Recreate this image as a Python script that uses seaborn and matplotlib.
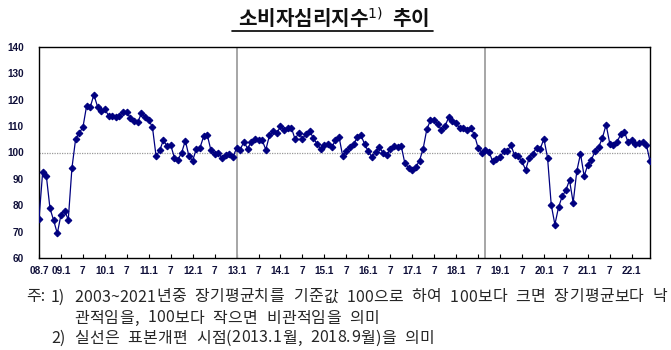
import matplotlib
matplotlib.use("Agg")
import matplotlib.pyplot as plt
import seaborn as sns
import pandas as pd
import numpy as np

# Monthly consumer sentiment index, 2008.7 - 2022.6
values = [
    # 2008.7 - 2008.12
    74.8, 92.6, 91.2, 78.8, 74.3, 69.3,
    # 2009
    76.3, 78.0, 74.5, 94.1, 105.0, 107.5, 109.5, 117.6, 117.2, 121.9, 117.4, 115.7,
    # 2010
    116.4, 114.0, 114.0, 113.6, 113.9, 115.5, 115.3, 113.0, 112.0, 111.5, 114.9, 113.6,
    # 2011
    112.2, 109.7, 98.6, 100.8, 104.7, 102.3, 102.8, 98.1, 97.3, 100.0, 104.5, 98.5,
    # 2012
    96.9, 101.4, 101.8, 106.1, 106.6, 100.8, 99.6, 100.0, 97.8, 99.2, 99.4, 98.2,
    # 2013
    101.7, 101.1, 104.1, 101.5, 104.0, 105.0, 104.6, 104.6, 101.1, 106.5, 108.0, 107.3,
    # 2014
    109.9, 108.7, 109.3, 109.3, 105.0, 107.5, 105.2, 107.1, 108.0, 105.5, 103.2, 101.4,
    # 2015
    103.0, 103.4, 101.9, 104.6, 106.0, 98.7, 100.6, 101.9, 103.1, 105.7, 106.5, 103.2,
    # 2016
    100.4, 98.3, 100.3, 102.0, 100.0, 99.0, 101.3, 102.3, 102.2, 102.5, 95.9, 94.3,
    # 2017
    93.4, 94.5, 96.9, 101.5, 108.8, 112.2, 112.2, 110.8, 108.5, 110.1, 113.4, 111.8,
    # 2018
    111.0, 109.3, 109.3, 108.5, 109.2, 106.8, 101.8, 100.0, 100.9, 100.3, 96.6, 97.5,
    # 2019
    98.2, 100.4, 100.6, 102.7, 98.9, 98.5, 96.7, 93.4, 98.0, 99.6, 101.8, 101.4,
    # 2020
    105.2, 98.0, 80.2, 72.7, 79.2, 83.4, 85.7, 89.5, 81.0, 93.0, 99.5, 91.1,
    # 2021
    95.3, 97.3, 100.5, 102.2, 105.5, 110.6, 103.4, 102.7, 103.9, 107.0, 107.9, 103.9,
    # 2022.1 - 2022.6
    104.8, 103.4, 103.6, 103.9, 103.0, 96.7,
]

tick_labels = ["08.7", "09.1", "7", "10.1", "7", "11.1", "7", "12.1", "7",
               "13.1", "7", "14.1", "7", "15.1", "7", "16.1", "7", "17.1", "7",
               "18.1", "7", "19.1", "7", "20.1", "7", "21.1", "7", "22.1"]
y_ticks = [60, 70, 80, 90, 100, 110, 120, 130, 140]
break_labels = ["13.1", "18.9"]
baseline = 100

title_text = "소비자심리지수"
note_lines = [
    ("주:", "1)", "2003~2021년중 장기평균치를 기준값 100으로 하여 100보다 크면 장기평균보다 낙"),
    ("", "", "관적임을, 100보다 작으면 비관적임을 의미"),
    ("", "2)", "실선은 표본개편 시점(2013.1월, 2018.9월)을 의미"),
]
note_right = 667  # right edge of the justified first note line

start_year, start_month = 2008, 7
def month_index(label_year, label_month):
    return (label_year - start_year) * 12 + (label_month - start_month)

df = pd.DataFrame({"t": np.arange(len(values)), "csi": values})

sns.set_theme(style="white")
plt.rcParams["font.family"] = ["Noto Sans CJK KR", "DejaVu Sans"]

W, H = 671, 350
fig = plt.figure(figsize=(W / 100, H / 100), dpi=100)
ax = fig.add_axes([39 / W, 1 - 258 / H, 611 / W, 211 / H])

navy = "#000080"

# sample-revision markers
for lab in break_labels:
    yy, mm = lab.split(".")
    ax.axvline(month_index(2000 + int(yy), int(mm)), color="#a6a6a6", lw=1.4, zorder=1)

ax.axhline(baseline, color="#9a9a9a", lw=0.9, ls=(0, (1, 1)), zorder=1)

sns.lineplot(data=df, x="t", y="csi", ax=ax, color=navy, lw=0.9,
             marker="D", markersize=3.4, markeredgecolor=navy,
             markerfacecolor=navy, zorder=3)

tick_font = ["Liberation Sans", "DejaVu Sans"]
ax.set_xlim(0, len(values) - 1)
ax.set_ylim(60, 140)
ax.set_yticks(y_ticks)
ax.set_yticklabels([str(v) for v in y_ticks], fontsize=7.2, fontweight="bold",
                   family=tick_font, color="#10103a")
xt = [0] + list(range(6, len(values), 6))
ax.set_xticks(xt)
ax.set_xticklabels(tick_labels[:len(xt)], fontsize=7.2, fontweight="bold",
                   family=tick_font, color="#10103a")
ax.tick_params(axis="x", direction="in", length=3, width=0.8, color="black",
               bottom=True, pad=6)
ax.tick_params(axis="y", left=False, pad=5)
ax.set_xlabel("")
ax.set_ylabel("")
for s in ax.spines.values():
    s.set_visible(True)
    s.set_color("black")
    s.set_linewidth(1.0)

# title with superscript and underline
fig.text(0.497, 1 - 18 / H, title_text + "$^{1)}$" + "  추이", ha="center",
         va="center", fontsize=14.5, fontweight="bold", color="#111111")
fig.add_artist(plt.Line2D([232 / W, 433 / W], [1 - 31 / H, 1 - 31 / H],
                          color="black", lw=1.2))

# footnotes, set character by character with a little tracking so the
# first line runs out to the right edge
fig.canvas.draw()
renderer = fig.canvas.get_renderer()
note_size = 11.5
space_w = note_size * 100 / 72 * 0.5

def char_widths(s):
    out = []
    for ch in s:
        if ch == " ":
            out.append(space_w)
        else:
            t = fig.text(0, 0, ch, fontsize=note_size)
            out.append(t.get_window_extent(renderer).width)
            t.remove()
    return out

line1 = note_lines[0][2]
w1 = char_widths(line1)
tracking = (note_right - 74 - sum(w1)) / (len(line1) - 1)

ys = [297, 318, 338]
for (a, b, c), y in zip(note_lines, ys):
    yf = 1 - y / H
    if a:
        fig.text(26 / W, yf, a, ha="left", va="center", fontsize=note_size)
    if b:
        fig.text(51 / W, yf, b, ha="left", va="center", fontsize=note_size)
    x = 74
    for ch, w in zip(c, char_widths(c)):
        if ch != " ":
            fig.text(x / W, yf, ch, ha="left", va="center", fontsize=note_size)
        x += w + tracking

fig.savefig("out.png", dpi=100)
